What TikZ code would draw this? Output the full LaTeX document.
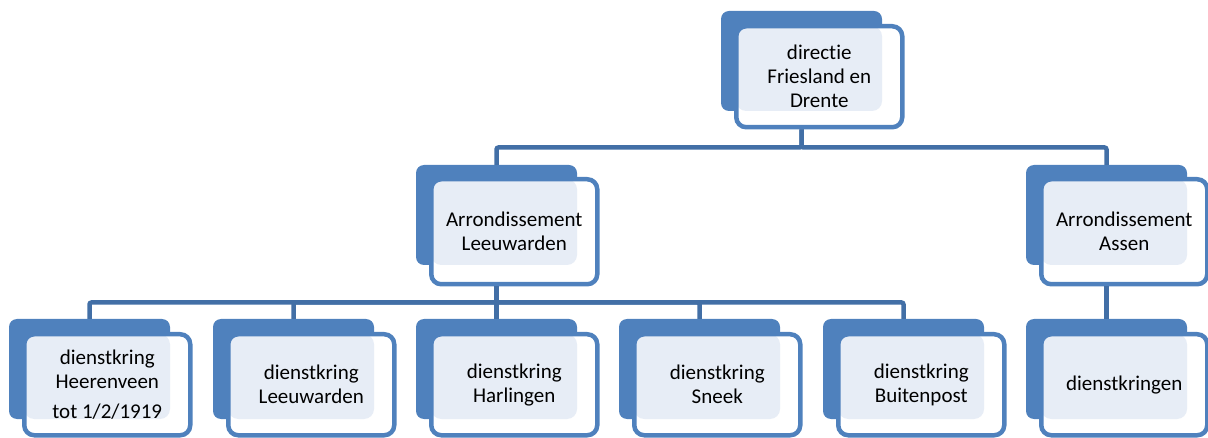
\documentclass[tikz,border=0pt]{standalone}
\usepackage{fontspec}
\setmainfont[RawFeature=-liga]{Carlito}
\usetikzlibrary{positioning,calc}

\definecolor{boxblue}{RGB}{79,129,189}
\definecolor{linkblue}{RGB}{66,111,166}
\definecolor{overlap}{RGB}{231,237,246}

\begin{document}
\begin{tikzpicture}[x=1pt,y=-1pt,
	front/.style={draw=boxblue, line width=4.5pt, fill=white, rounded corners=10pt,
		minimum width=166pt, minimum height=101pt, inner sep=0pt, align=center, anchor=north west,
		path picture={\fill[overlap] (path picture bounding box.north west) rectangle (#1.south east);}}]
	\tikzstyle{every node}=[font=\fontsize{21}{24}\selectfont]
	\tikzstyle{back}=[fill=boxblue, rounded corners=8pt, minimum width=161pt, minimum height=100pt, inner sep=0pt, outer sep=0pt, anchor=north west]
	\tikzstyle{link}=[draw=linkblue, line width=4.5pt, rounded corners=2pt]

	\useasboundingbox (0,0) rectangle (1208,438);

	% directie
	\node[back] (dirBack) at (721,11) {};
	\node[front=dirBack] (dir) at ([shift={(13,13)}]dirBack.north west) {directie\\Friesland en\\Drente};

	% arrondissementen
	\node[back] (arrLwdBack) at (416,165) {};
	\node[front=arrLwdBack, minimum height=105pt] (arrLwd) at ([shift={(13,12)}]arrLwdBack.north west) {Arrondissement\\Leeuwarden};
	\node[back] (arrAsnBack) at (1026,165) {};
	\node[front=arrAsnBack, minimum height=105pt] (arrAsn) at ([shift={(13,12)}]arrAsnBack.north west) {Arrondissement\\Assen};

	% dienstkringen
	\node[back] (dkHvnBack) at (9,319) {};
	\node[front=dkHvnBack] (dkHvn) at ([shift={(13,13)}]dkHvnBack.north west) {dienstkring\\Heerenveen\\[6pt]tot 1/2/1919};
	\node[back] (dkLwdBack) at (213,319) {};
	\node[front=dkLwdBack] (dkLwd) at ([shift={(13,13)}]dkLwdBack.north west) {dienstkring\\Leeuwarden};
	\node[back] (dkHrlBack) at (416,319) {};
	\node[front=dkHrlBack] (dkHrl) at ([shift={(13,13)}]dkHrlBack.north west) {dienstkring\\Harlingen};
	\node[back] (dkSnkBack) at (619,319) {};
	\node[front=dkSnkBack] (dkSnk) at ([shift={(13,13)}]dkSnkBack.north west) {dienstkring\\Sneek};
	\node[back] (dkBtpBack) at (823,319) {};
	\node[front=dkBtpBack] (dkBtp) at ([shift={(13,13)}]dkBtpBack.north west) {dienstkring\\Buitenpost};
	\node[back] (dkAsnBack) at (1026,319) {};
	\node[front=dkAsnBack] (dkAsn) at ([shift={(13,13)}]dkAsnBack.north west) {dienstkringen};

	% verbindingen
	\draw[link] (dirBack.south |- dir.south) -- ++(0,18) -| (arrLwdBack.north);
	\draw[link] (dirBack.south |- dir.south) -- ++(0,18) -| (arrAsnBack.north);
	\draw[link] (arrLwdBack.south |- arrLwd.south) -- ++(0,16) -| (dkHvnBack.north);
	\draw[link] (arrLwdBack.south |- arrLwd.south) -- ++(0,16) -| (dkLwdBack.north);
	\draw[link] (arrLwdBack.south |- arrLwd.south) -- (dkHrlBack.north);
	\draw[link] (arrLwdBack.south |- arrLwd.south) -- ++(0,16) -| (dkSnkBack.north);
	\draw[link] (arrLwdBack.south |- arrLwd.south) -- ++(0,16) -| (dkBtpBack.north);
	\draw[link] (arrAsnBack.south |- arrAsn.south) -- (dkAsnBack.north);
\end{tikzpicture}
\end{document}
